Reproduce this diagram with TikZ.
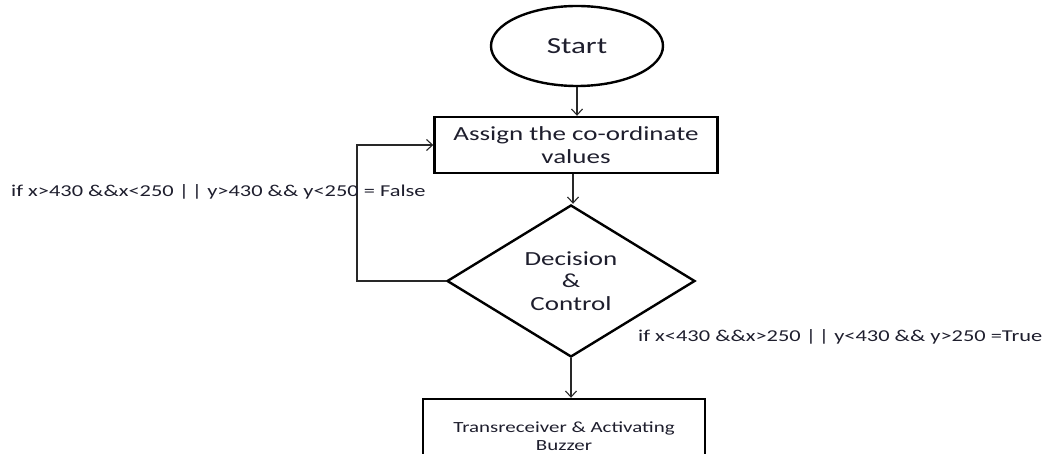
\documentclass[tikz,border=0pt]{standalone}
\usepackage{fontspec}
\setmainfont[FakeStretch=1.35]{Carlito}
\usetikzlibrary{shapes.geometric,arrows.meta}
\definecolor{txt}{RGB}{30,30,45}
\definecolor{ln}{RGB}{40,40,40}
\tikzset{
  shapebox/.style={draw=black, line width=2.4pt, text=txt, inner sep=0pt, align=center},
  arr/.style={draw=ln, line width=1.2pt, -{Straight Barb[length=6pt,width=11pt,line width=1.1pt]}},
  lbl/.style={text=txt, inner sep=0pt, font=\fontsize{16.6}{20}\selectfont}
}
\begin{document}
\begin{tikzpicture}[x=1pt,y=-1pt]
\useasboundingbox (0,0) rectangle (1045,454);
\clip (0,0) rectangle (1045,454);
\node[shapebox, ellipse, minimum width=172pt, minimum height=80pt, font=\fontsize{23}{27}\selectfont] (start) at (577,46) {Start};
\node[shapebox, rectangle, minimum width=283pt, minimum height=56pt, font=\fontsize{20}{23}\selectfont] (assign) at (576,145) {Assign the co-ordinate\\values};
\node[shapebox, diamond, shape aspect=1.63, minimum width=248pt, minimum height=152pt, font=\fontsize{20}{22.5}\selectfont] (dec) at (571,281) {Decision\\\&\\Control};
\node[shapebox, rectangle, minimum width=282pt, minimum height=74pt, font=\fontsize{15.5}{18}\selectfont] (buzz) at (564,436) {Transreceiver \& Activating\\Buzzer};
\coordinate (lp) at (357,281);
\draw[arr] (start.south) -- (start.south |- assign.north);
\draw[arr] (assign.south -| 573,0) -- (573,0 |- dec.north);
\draw[arr] (dec.south) -- (dec.south |- buzz.north);
\draw[arr] (dec.west) -- (lp) |- (assign.west);
\node[lbl, anchor=west] (lfalse) at (11,192) {if x>430 \&\&x<250 |\,| y>430 \&\& y<250 = False};
\node[lbl, anchor=west] (ltrue) at (638,337) {if x<430 \&\&x>250 |\,| y<430 \&\& y>250 =True};
\end{tikzpicture}
\end{document}
